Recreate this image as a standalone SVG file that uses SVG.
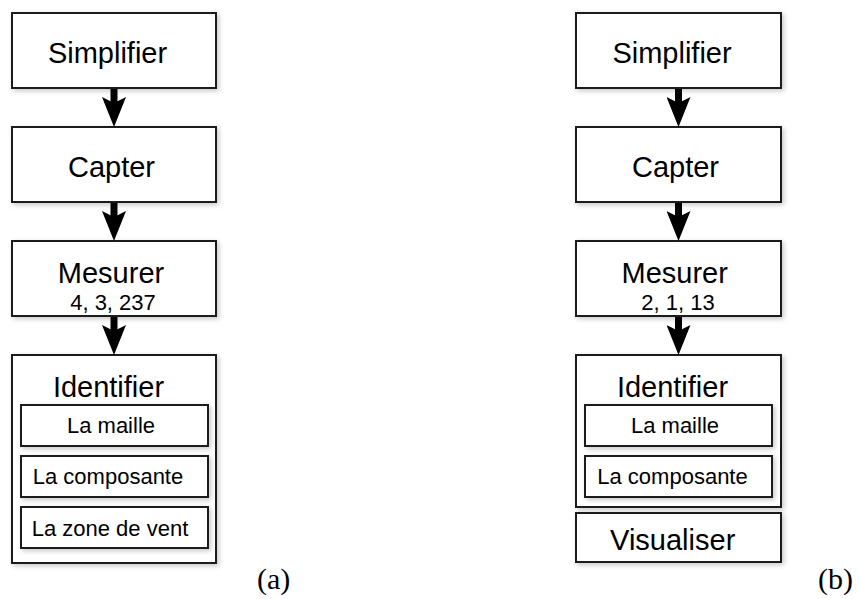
<svg xmlns="http://www.w3.org/2000/svg" width="859" height="599" viewBox="0 0 859 599">
<defs>
<filter id="sh" x="-10%" y="-10%" width="125%" height="125%">
<feDropShadow dx="2" dy="2" stdDeviation="2.5" flood-color="#000" flood-opacity="0.22"/>
</filter>
<marker id="ah" markerUnits="userSpaceOnUse" markerWidth="30" markerHeight="24" viewBox="0 0 30 24" refX="6" refY="12" orient="auto">
<path d="M0,0 L30,12 L0,24 L6,12 Z" fill="#000"/>
</marker>
<style>
.box{fill:#fff;stroke:#1a1a1a;stroke-width:2;filter:url(#sh)}
.t{font-family:"Liberation Sans",Arial,sans-serif;font-size:29px;fill:#000;text-anchor:middle}
.s{font-family:"Liberation Sans",Arial,sans-serif;font-size:22px;fill:#000;text-anchor:middle}
.cap{font-family:"Liberation Serif","Times New Roman",serif;font-size:30px;fill:#000}
.c{stroke:#000;stroke-width:7;fill:none;marker-end:url(#ah)}
</style>
</defs>
<rect width="859" height="599" fill="#fff"/>
<g id="a-simplifier"><rect class="box" x="12" y="13" width="204" height="75"/><text class="t" x="107.5" y="63">Simplifier</text></g>
<g id="a-capter"><rect class="box" x="12" y="127" width="204" height="75"/><text class="t" x="111.5" y="177">Capter</text></g>
<g id="a-mesurer"><rect class="box" x="12" y="241" width="204" height="75"/><text class="t" x="111" y="283">Mesurer</text><text class="s" x="113" y="310">4, 3, 237</text></g>
<g id="a-identifier"><rect class="box" x="12" y="355" width="204" height="208"/><text class="t" x="108.5" y="397">Identifier</text>
<g id="a-maille"><rect class="box" x="21" y="405" width="187" height="41"/><text class="s" x="111" y="433">La maille</text></g>
<g id="a-composante"><rect class="box" x="21" y="456" width="187" height="41"/><text class="s" x="108" y="484">La composante</text></g>
<g id="a-zone"><rect class="box" x="21" y="507" width="187" height="41"/><text class="s" x="110" y="536">La zone de vent</text></g>
</g>
<g id="b-simplifier"><rect class="box" x="576" y="13" width="205" height="75"/><text class="t" x="672" y="63">Simplifier</text></g>
<g id="b-capter"><rect class="box" x="576" y="127" width="205" height="75"/><text class="t" x="675.5" y="177">Capter</text></g>
<g id="b-mesurer"><rect class="box" x="576" y="241" width="205" height="75"/><text class="t" x="674.7" y="283">Mesurer</text><text class="s" x="678" y="310">2, 1, 13</text></g>
<g id="b-identifier"><rect class="box" x="576" y="355" width="205" height="152"/><text class="t" x="672.5" y="397">Identifier</text>
<g id="b-maille"><rect class="box" x="585" y="405" width="187" height="41"/><text class="s" x="675" y="433">La maille</text></g>
<g id="b-composante"><rect class="box" x="585" y="456" width="187" height="41"/><text class="s" x="672.5" y="484">La composante</text></g>
</g>
<g id="b-visualiser"><rect class="box" x="576" y="513" width="205" height="49"/><text class="t" x="672.7" y="550">Visualiser</text></g>
<g id="connectors">
<line class="c" x1="114" y1="89" x2="114" y2="103"/>
<line class="c" x1="114" y1="203" x2="114" y2="217"/>
<line class="c" x1="114" y1="317" x2="114" y2="331"/>
<line class="c" x1="678.5" y1="89" x2="678.5" y2="103"/>
<line class="c" x1="678.5" y1="203" x2="678.5" y2="217"/>
<line class="c" x1="678.5" y1="317" x2="678.5" y2="331"/>
</g>
<text class="cap" x="257" y="589">(a)</text>
<text class="cap" x="818" y="589">(b)</text>
</svg>
